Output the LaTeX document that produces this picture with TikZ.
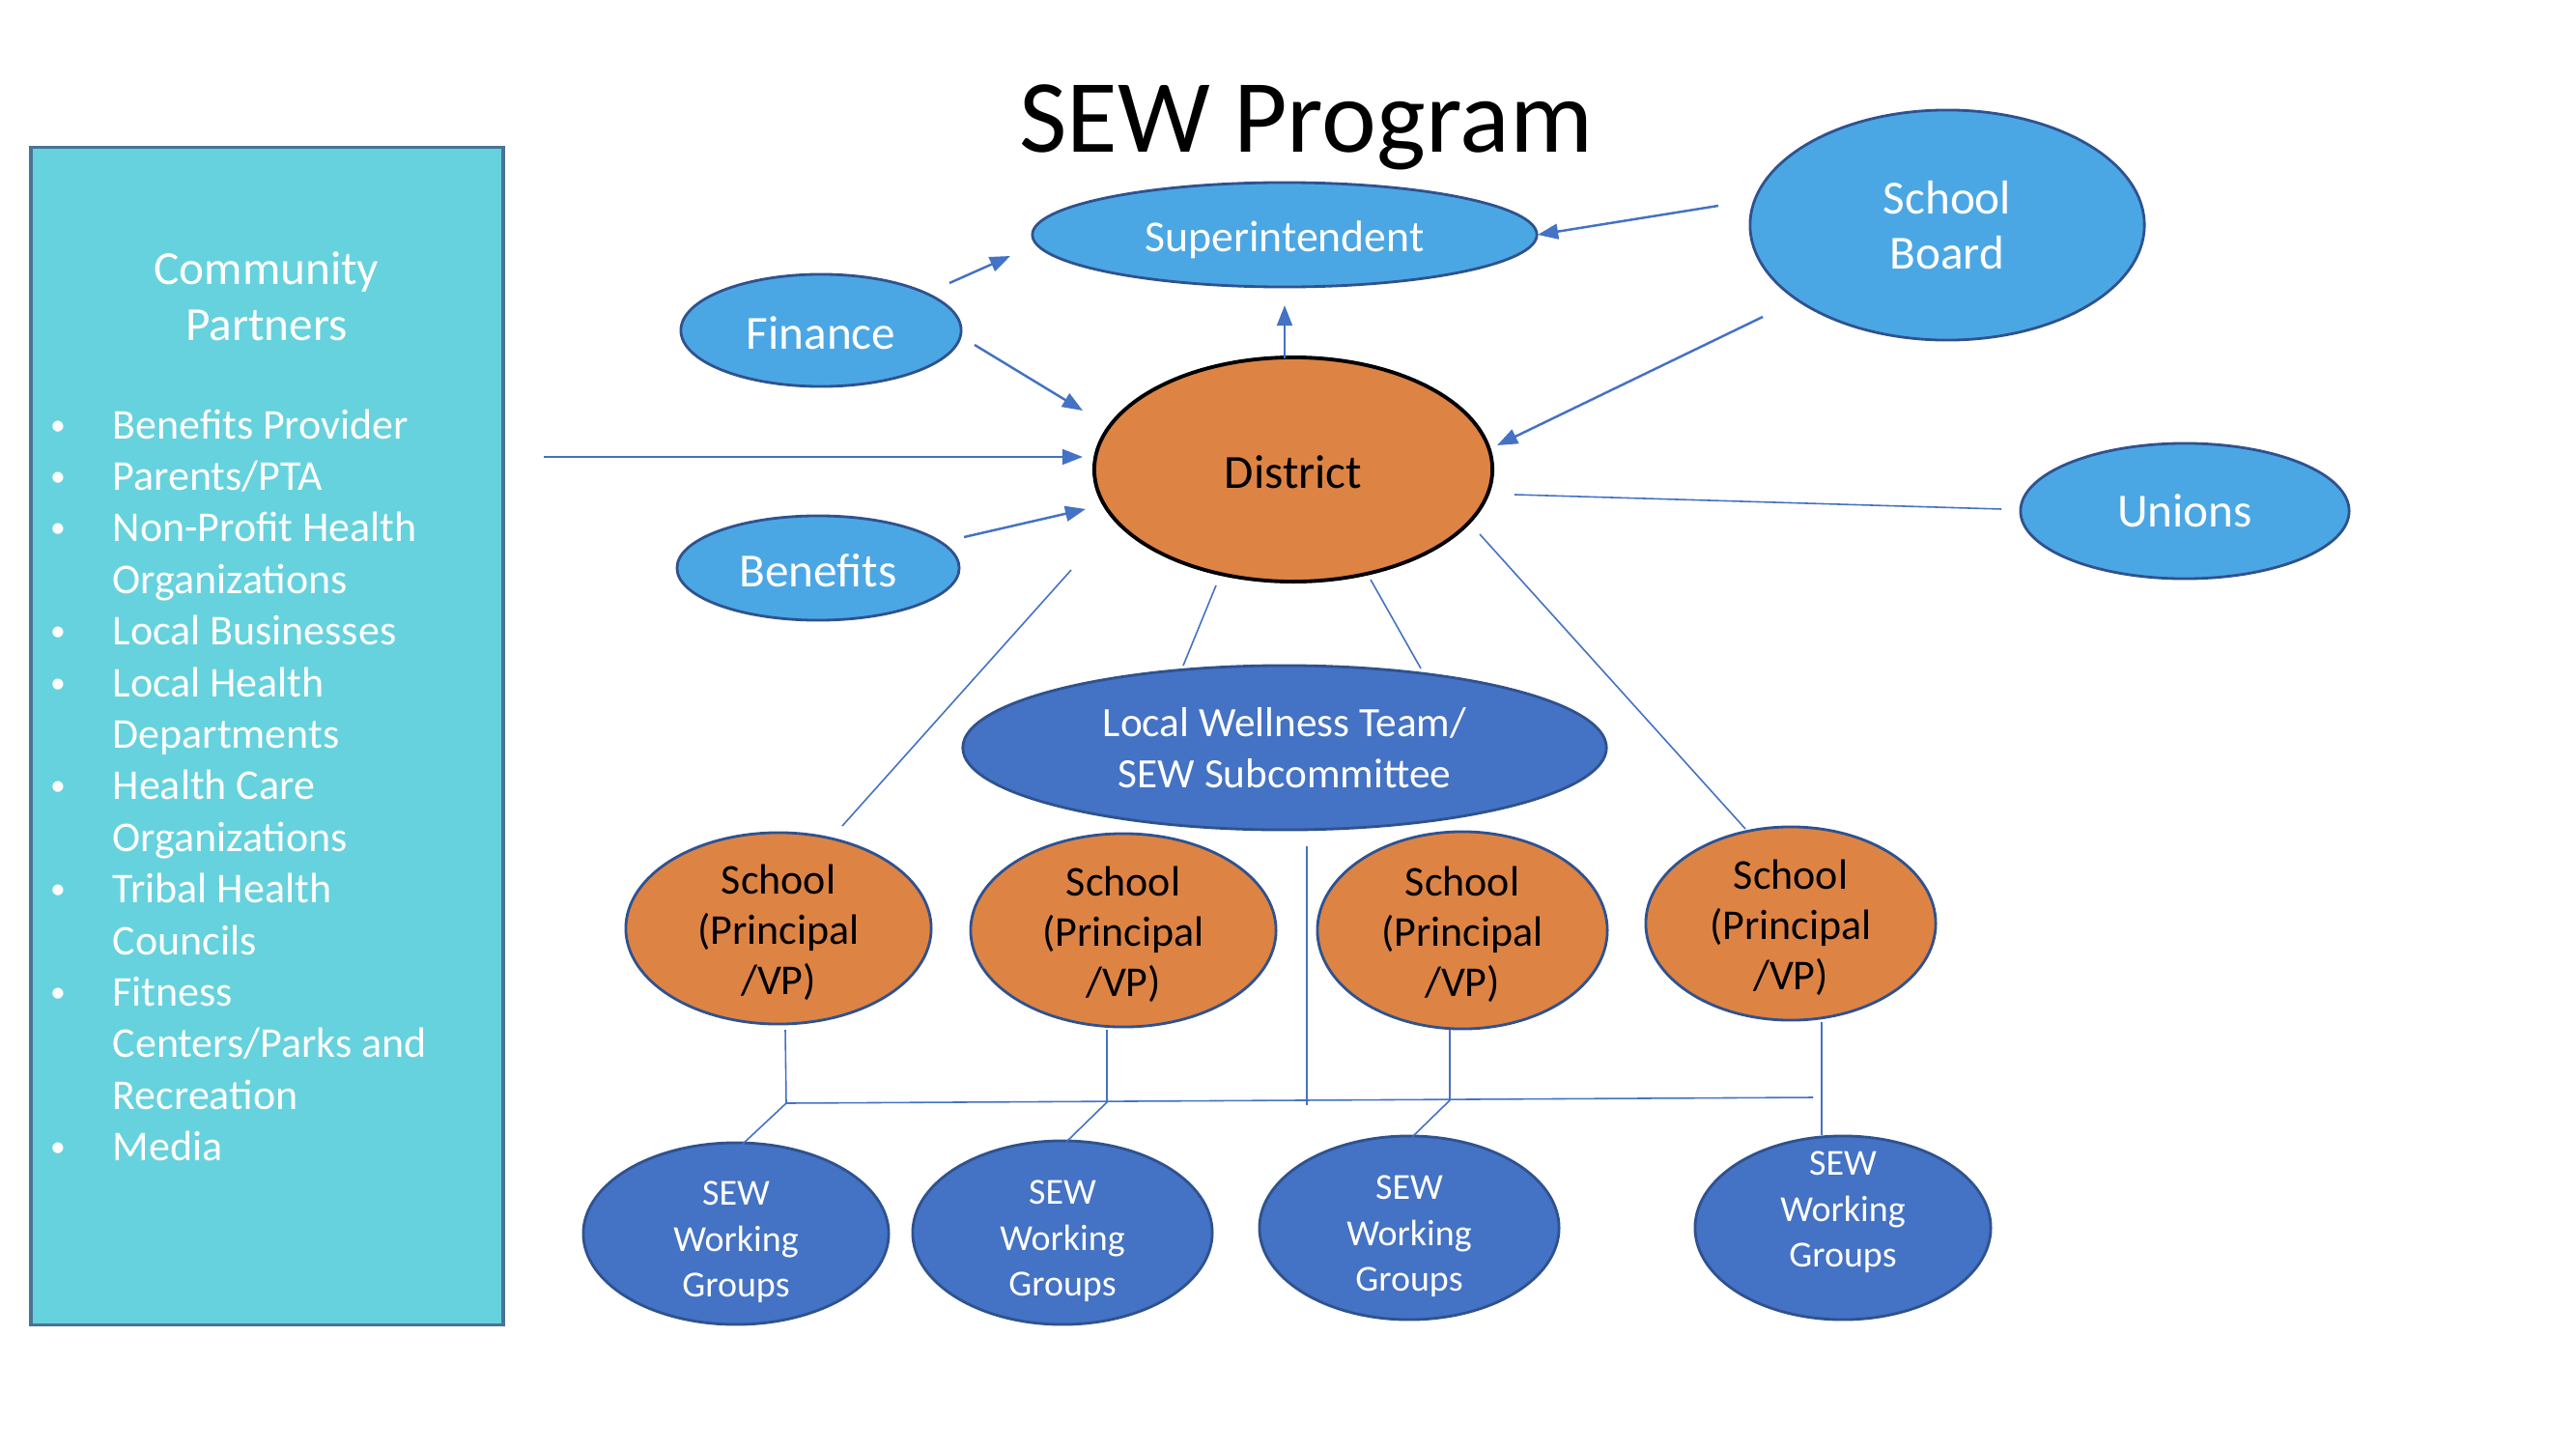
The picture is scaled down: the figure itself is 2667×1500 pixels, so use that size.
\documentclass[tikz,border=0pt]{standalone}
\usepackage{fontspec}
\setmainfont{Carlito}
\usetikzlibrary{shapes.geometric,arrows.meta}
\definecolor{skyb}{HTML}{4BA7E4}
\definecolor{deepb}{HTML}{4472C4}
\definecolor{edgeb}{HTML}{2F528F}
\definecolor{orng}{HTML}{DD8344}
\definecolor{cpfill}{HTML}{66D2DD}
\definecolor{cpedge}{HTML}{4A7397}
\definecolor{linec}{HTML}{4472C4}
\newcommand{\lift}[1]{\rule{0pt}{#1}}
\tikzset{
  ell/.style={ellipse, inner sep=-10pt, align=center, line width=0.8pt},
  lightell/.style={ell, fill=skyb, draw=edgeb, text=white, font=\fontsize{14}{16.4}\selectfont},
  schoolell/.style={ell, fill=orng, draw=edgeb, text=black, font=\fontsize{12.5}{14.7}\selectfont},
  wgell/.style={ell, fill=deepb, draw=edgeb, text=white, font=\fontsize{10.8}{13.5}\selectfont},
  arr/.style={draw=linec, line width=0.7pt, -{Triangle[length=6pt,width=4.5pt]}},
  thin/.style={draw=linec, line width=0.45pt},
  cptext/.style={text=white, inner sep=0pt, font=\fontsize{12.5}{15.1}\selectfont},
}
\begin{document}
\begin{tikzpicture}[x=0.01cm, y=-0.01cm]
\fill[white] (0,0) rectangle (2667,1500);
\useasboundingbox (0,0) rectangle (2667,1500);

% title
\node[anchor=base, inner sep=0pt, font=\fontsize{30.6}{36}\selectfont] (title) at (1352,158) {SEW Program};

% community partners box
\node[draw=cpedge, fill=cpfill, line width=1pt, minimum width=4.89cm, minimum height=12.18cm, inner sep=0pt] (cp) at (276.5,762) {};
\node[text=white, align=center, inner sep=0pt, font=\fontsize{14}{16.4}\selectfont] (cphead) at (276,307) {Community\\Partners};
\foreach \t [count=\i from 0] in {Benefits Provider, Parents/PTA, Non-Profit Health, Organizations, Local Businesses, Local Health, Departments, Health Care, Organizations, Tribal Health, Councils, Fitness, Centers/Parks and, Recreation, Media}
  {\node[cptext, anchor=base west] (cpl\i) at (116,454+53.4*\i) {\t};}
\foreach \i in {0,1,2,4,5,7,9,11,14}
  {\node[cptext, anchor=base, font=\fontsize{9}{10}\selectfont] (bul\i) at (60,450+53.4*\i) {•};}

% upper nodes
\node[lightell, minimum width=5.22cm, minimum height=1.08cm, font=\fontsize{13}{15}\selectfont] (sup) at (1330,243) {\lift{12.2pt}Superintendent};
\node[lightell, minimum width=2.90cm, minimum height=1.16cm] (fin) at (850,342) {\lift{11pt}Finance};
\node[lightell, minimum width=2.92cm, minimum height=1.08cm] (ben) at (847,588) {\lift{11pt}Benefits};
\node[ell, fill=orng, draw=black, line width=1.1pt, minimum width=4.12cm, minimum height=2.32cm, font=\fontsize{14}{16.4}\selectfont] (dist) at (1339,486) {\lift{11pt}District};
\node[lightell, minimum width=4.08cm, minimum height=2.38cm] (board) at (2016,233) {School\\Board};
\node[lightell, minimum width=3.40cm, minimum height=1.40cm] (unions) at (2262,529) {Unions};
\node[ell, fill=deepb, draw=edgeb, text=white, minimum width=6.66cm, minimum height=1.70cm, font=\fontsize{12.3}{14.9}\selectfont] (lwt) at (1330,774) {Local Wellness Team/\\SEW Subcommittee};

% schools
\node[schoolell, minimum width=3.16cm, minimum height=1.98cm] (s1) at (806,961) {\lift{11pt}School\\(Principal\\/VP)};
\node[schoolell, minimum width=3.16cm, minimum height=2.00cm] (s2) at (1163,963) {\lift{11pt}School\\(Principal\\/VP)};
\node[schoolell, minimum width=3.00cm, minimum height=2.04cm] (s3) at (1514,963) {\lift{11pt}School\\(Principal\\/VP)};
\node[schoolell, minimum width=3.00cm, minimum height=2.00cm] (s4) at (1854,956) {\lift{11pt}School\\(Principal\\/VP)};

% working groups
\node[wgell, minimum width=3.16cm, minimum height=1.88cm] (w1) at (762,1277) {\lift{12pt}SEW\\Working\\Groups};
\node[wgell, minimum width=3.10cm, minimum height=1.90cm] (w2) at (1100,1276) {\lift{12pt}SEW\\Working\\Groups};
\node[wgell, minimum width=3.10cm, minimum height=1.90cm] (w3) at (1459,1271) {\lift{12pt}SEW\\Working\\Groups};
\node[wgell, minimum width=3.06cm, minimum height=1.90cm] (w4) at (1908,1271) {};
\node[text=white, align=center, inner sep=0pt, font=\fontsize{10.8}{13.5}\selectfont] (w4t) at (1908,1255) {SEW\\Working\\Groups};

% connector end points
\coordinate (finA) at (983,293);   \coordinate (supA) at (1046,265);
\coordinate (finB) at (1009,357);  \coordinate (distA) at (1121,425);
\coordinate (cpA) at (563,473);    \coordinate (distB) at (1121,473);
\coordinate (benA) at (998,556);   \coordinate (distC) at (1124,527);
\coordinate (distD) at (1330,371); \coordinate (supB) at (1330,316);
\coordinate (boardA) at (1779,213);\coordinate (supC) at (1592,243);
\coordinate (boardB) at (1825,328);\coordinate (distE) at (1550,461);
\coordinate (distF) at (1568,512); \coordinate (unA) at (2072,527);
\coordinate (distG) at (1109,590); \coordinate (s1A) at (872,855);
\coordinate (distH) at (1532,553); \coordinate (s4A) at (1807,858);
\coordinate (distI) at (1259,606); \coordinate (lwtA) at (1225,689);
\coordinate (distJ) at (1419,600); \coordinate (lwtB) at (1471,692);
\coordinate (lwtC) at (1353,876);  \coordinate (busM) at (1353,1144);
\coordinate (busL) at (814,1142);  \coordinate (busR) at (1877,1136);
\coordinate (s1B) at (813,1066);   \coordinate (bus1) at (814,1142);
\coordinate (s2B) at (1146,1066);  \coordinate (bus2) at (1146,1141);
\coordinate (s3B) at (1501,1066);  \coordinate (bus3) at (1501,1139);
\coordinate (s4B) at (1886,1058);  \coordinate (w4A) at (1886,1175);
\coordinate (w1A) at (767,1186);   \coordinate (w2A) at (1104,1182);
\coordinate (w3A) at (1462,1177);

% arrows
\draw[arr] (finA) -- (supA);
\draw[arr] (finB) -- (distA);
\draw[arr] (cpA) -- (distB);
\draw[arr] (benA) -- (distC);
\draw[arr] (distD) -- (supB);
\draw[arr] (boardA) -- (supC);
\draw[arr] (boardB) -- (distE);

% plain lines
\draw[thin] (distF) -- (unA);
\draw[thin] (distG) -- (s1A);
\draw[thin] (distH) -- (s4A);
\draw[thin] (distI) -- (lwtA);
\draw[thin] (distJ) -- (lwtB);
\draw[thin] (lwtC) -- (busM);
\draw[thin] (busL) -- (busR);
\draw[thin] (s1B) -- (bus1) -- (w1A);
\draw[thin] (s2B) -- (bus2) -- (w2A);
\draw[thin] (s3B) -- (bus3) -- (w3A);
\draw[thin] (s4B) -- (w4A);
\end{tikzpicture}
\end{document}
